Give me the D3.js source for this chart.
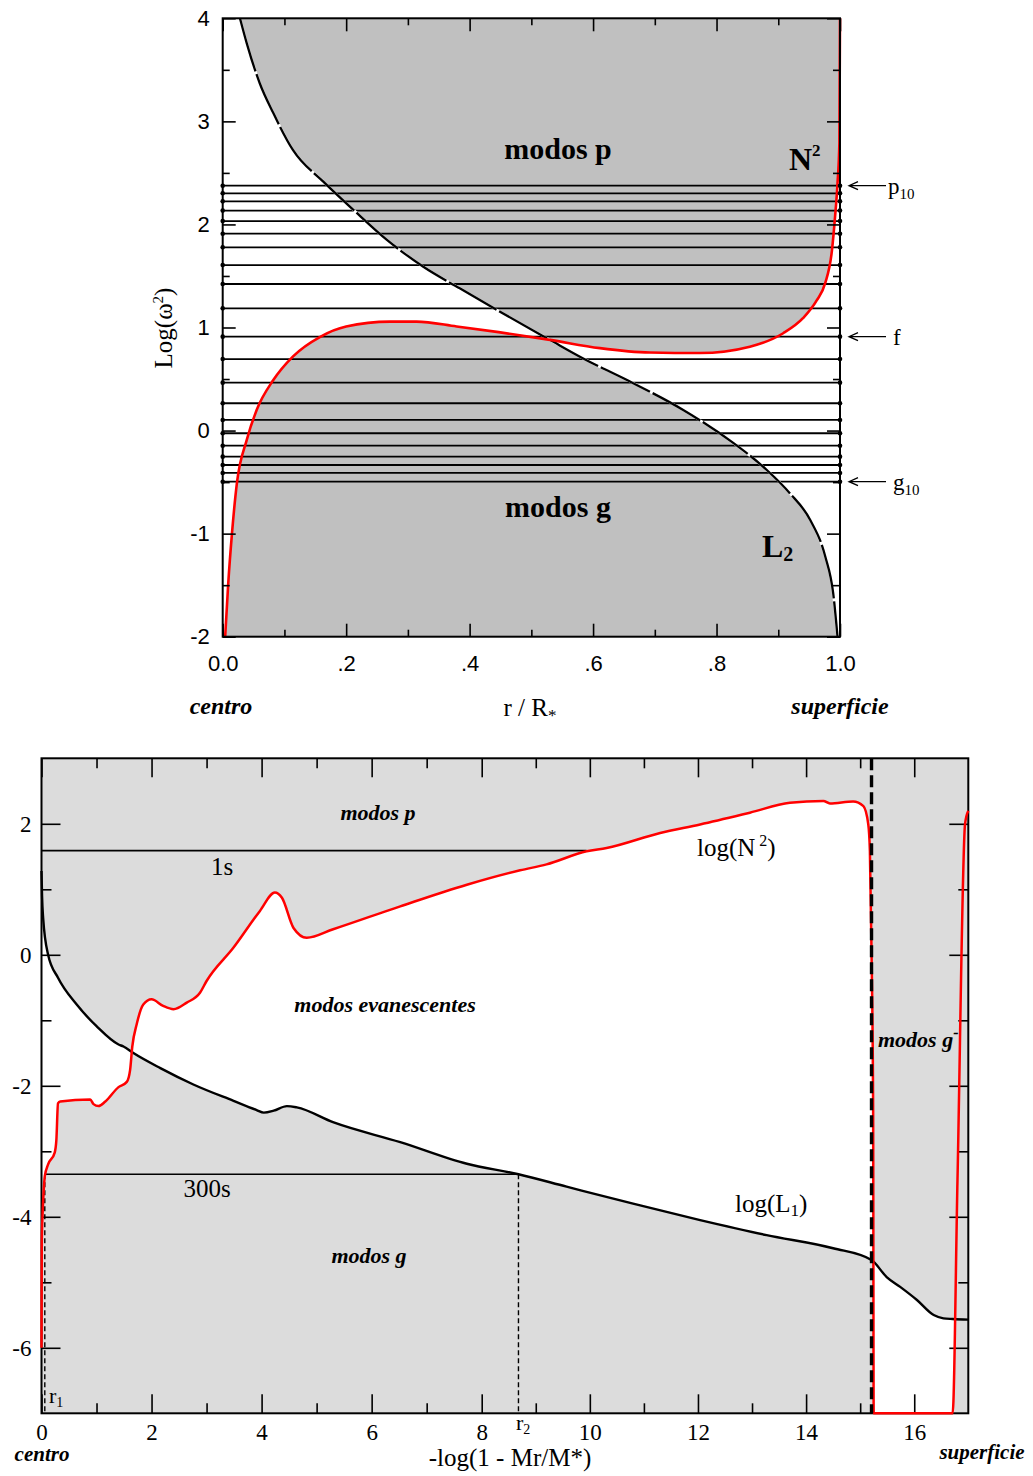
<!DOCTYPE html>
<html>
<head>
<meta charset="utf-8">
<script src="https://cdn.jsdelivr.net/npm/d3@7"></script>
<style>
  body { margin: 0; background: #fff; }
  svg { display: block; }
</style>
</head>
<body>
<svg id="fig" width="1033" height="1476"></svg>
<script>
// ---------------- Panel A: propagation diagram against r / R* ----------------
const topXMajor = [0, 0.2, 0.4, 0.6, 0.8, 1.0];
const topXLabels = ["0.0", ".2", ".4", ".6", ".8", "1.0"];
const topXMinor = [0.1, 0.3, 0.5, 0.7, 0.9];
const topYMajor = [-2, -1, 0, 1, 2, 3, 4];
const topYMinor = [-1.5, -0.5, 0.5, 1.5, 2.5, 3.5];

// Brunt-Vaisala frequency, log(N^2)
const topN2 = [
  [0.004, -2.0], [0.009, -1.48], [0.015, -1.0], [0.023, -0.51], [0.039, -0.09],
  [0.055, 0.20], [0.082, 0.49], [0.114, 0.72], [0.158, 0.91], [0.2, 1.01],
  [0.271, 1.057], [0.314, 1.057], [0.379, 1.01], [0.447, 0.955], [0.530, 0.88],
  [0.611, 0.80], [0.692, 0.757], [0.773, 0.752], [0.854, 0.814], [0.908, 0.944],
  [0.940, 1.09], [0.962, 1.26], [0.976, 1.43], [0.987, 1.75], [0.992, 2.075],
  [0.996, 2.40], [0.999, 2.79], [1.0, 4.0]
];
// Lamb frequency for l = 2, log(L_2^2)
const topL2 = [
  [0.028, 4.0], [0.039, 3.757], [0.060, 3.37], [0.082, 3.08], [0.114, 2.72],
  [0.163, 2.415], [0.212, 2.14], [0.266, 1.85], [0.325, 1.59], [0.384, 1.38],
  [0.447, 1.16], [0.530, 0.88], [0.584, 0.70], [0.665, 0.46], [0.746, 0.20],
  [0.827, -0.12], [0.881, -0.38], [0.919, -0.61], [0.952, -0.87], [0.976, -1.22],
  [0.989, -1.58], [0.996, -2.0]
];
// Eigenfrequencies, log(omega^2)
const pModes = [2.376, 2.302, 2.224, 2.134, 2.033, 1.910, 1.778, 1.606, 1.422, 1.186];
const fMode = [0.911];
const gModes = [0.694, 0.465, 0.265, 0.103, -0.026, -0.147, -0.253, -0.334, -0.411, -0.496];
const modeMarkers = [
  { name: "p", sub: "10", value: 2.376 },
  { name: "f", sub: "", value: 0.911 },
  { name: "g", sub: "10", value: -0.496 }
];

// ---------------- Panel B: propagation diagram against -log(1 - Mr/M*) ----------------
const botXMajor = [0, 2, 4, 6, 8, 10, 12, 14, 16];
const botXMinor = [1, 3, 5, 7, 9, 11, 13, 15];
const botYMajor = [-6, -4, -2, 0, 2];
const botYMinor = [-5, -3, -1, 1];

const botN2 = [
  [0, -6.0], [0.005, -4.4], [0.02, -3.95], [0.04, -3.6], [0.06, -3.38], [0.12, -3.2],
  [0.24, -3.02], [0.27, -2.83], [0.30, -2.27], [0.34, -2.24], [0.885, -2.21],
  [0.945, -2.28], [1.036, -2.31], [1.16, -2.24], [1.40, -2.02], [1.55, -1.94],
  [1.61, -1.76], [1.65, -1.40], [1.73, -1.06], [1.85, -0.76], [2.0, -0.68],
  [2.21, -0.78], [2.40, -0.83], [2.64, -0.73], [2.88, -0.58], [3.0, -0.40],
  [3.49, 0.11], [3.97, 0.67], [4.24, 0.95], [4.37, 0.87], [4.58, 0.41],
  [4.82, 0.26], [5.30, 0.39], [6.52, 0.74], [7.73, 1.07], [8.71, 1.29],
  [9.20, 1.38], [9.94, 1.58], [10.31, 1.63], [11.30, 1.86], [12.04, 1.99],
  [12.96, 2.17], [13.70, 2.32], [14.32, 2.35], [14.44, 2.31], [14.87, 2.34],
  [15.06, 2.27], [15.15, 1.99], [15.18, 1.58], [15.21, 0.06], [15.24, -2.37],
  [15.25, -7.0], [16.71, -7.0], [16.80, -3.44], [16.94, 2.0], [17.0, 2.2]
];
const botL1 = [
  [0, 1.28], [0.01, 0.9], [0.03, 0.56], [0.12, 0.0], [0.30, -0.35], [0.64, -0.76],
  [1.0, -1.09], [1.40, -1.37], [1.49, -1.40], [1.67, -1.50], [2.16, -1.73],
  [2.76, -1.98], [3.49, -2.23], [3.91, -2.37], [4.04, -2.41], [4.22, -2.38],
  [4.46, -2.31], [4.64, -2.33], [5.31, -2.56], [6.52, -2.86], [7.73, -3.19],
  [8.68, -3.35], [9.57, -3.54], [10.80, -3.80], [12.04, -4.05], [13.27, -4.28],
  [14.50, -4.48], [15.21, -4.66], [15.49, -4.92], [15.74, -5.07], [16.05, -5.27],
  [16.36, -5.50], [16.54, -5.55], [16.71, -5.56], [17.0, -5.57]
];
const periodLines = [
  { label: "1s", value: 1.59, from: 0, to: 9.94, tx: 222, ty: 875 },
  { label: "300s", value: -3.35, from: 0.06, to: 8.68, tx: 207, ty: 1197 }
];
const turningPoints = [
  { name: "r", sub: "1", x: 0.06, value: -3.35 },
  { name: "r", sub: "2", x: 8.68, value: -3.35 }
];
const envelopeEdge = 15.21;

// ---------------------------------------------------------------------------
const svg = d3.select("#fig");
const defs = svg.append("defs");
const SERIF = "'Liberation Serif', 'Times New Roman', serif";
const SANS = "'Liberation Sans', Arial, sans-serif";
const curve = d3.curveMonotoneX;
const plainInt = d => String(d);   // hyphen-minus, as on the printed axes

function addText(g, x, y, parts, o = {}) {
  const t = g.append("text").attr("x", x).attr("y", y)
    .attr("font-family", o.family || SERIF)
    .attr("font-size", o.size || 24)
    .attr("font-weight", o.weight || "normal")
    .attr("font-style", o.style || "normal")
    .attr("text-anchor", o.anchor || "start")
    .attr("fill", "#000");
  if (o.rotate) t.attr("transform", `rotate(${o.rotate},${x},${y})`);
  parts.forEach(p => {
    if (typeof p === "string") { t.append("tspan").text(p); return; }
    t.append("tspan").attr("dy", p.dy).attr("font-size", p.size).text(p.t);
  });
  return t;
}

function frameWithTicks(g, xs, ys, o) {
  const xr = xs.range(), yr = ys.range();
  const L = xr[0], R = xr[xr.length - 1], Bt = yr[0], Tp = yr[yr.length - 1];
  const style = sel => {
    sel.select(".domain").remove();
    sel.selectAll(".tick line").attr("stroke", "#000").attr("stroke-width", o.tickW);
    sel.selectAll(".tick text").attr("font-family", o.font).attr("font-size", o.fontSize).attr("fill", "#000");
  };
  g.append("g").attr("transform", `translate(0,${Bt})`)
    .call(d3.axisBottom(xs).tickValues(o.xMajor).tickSize(-o.maj).tickPadding(o.xPad).tickFormat((d, i) => o.xFmt(d, i))).call(style);
  g.append("g").attr("transform", `translate(0,${Bt})`)
    .call(d3.axisBottom(xs).tickValues(o.xMinor).tickSize(-o.min).tickFormat("")).call(style);
  g.append("g").attr("transform", `translate(0,${Tp})`)
    .call(d3.axisTop(xs).tickValues(o.xMajor).tickSize(-o.maj).tickFormat("")).call(style);
  g.append("g").attr("transform", `translate(0,${Tp})`)
    .call(d3.axisTop(xs).tickValues(o.xMinor).tickSize(-o.min).tickFormat("")).call(style);
  g.append("g").attr("transform", `translate(${L},0)`)
    .call(d3.axisLeft(ys).tickValues(o.yMajor).tickSize(-o.maj).tickPadding(o.yPad).tickFormat(o.yFmt)).call(style);
  g.append("g").attr("transform", `translate(${L},0)`)
    .call(d3.axisLeft(ys).tickValues(o.yMinor).tickSize(-o.min).tickFormat("")).call(style);
  g.append("g").attr("transform", `translate(${R},0)`)
    .call(d3.axisRight(ys).tickValues(o.yMajor).tickSize(-o.maj).tickFormat("")).call(style);
  g.append("g").attr("transform", `translate(${R},0)`)
    .call(d3.axisRight(ys).tickValues(o.yMinor).tickSize(-o.min).tickFormat("")).call(style);
  g.append("rect").attr("x", L).attr("y", Tp).attr("width", R - L).attr("height", Bt - Tp)
    .attr("fill", "none").attr("stroke", "#000").attr("stroke-width", o.frameW);
}

// ============================ Panel A ============================
(function () {
  const xT = d3.scaleLinear().domain([0, 1]).range([222.7, 840]);
  const yT = d3.scaleLinear().domain([-2, 4]).range([636.7, 18.3]);
  const g = svg.append("g");
  const areaTo = (data, edge) => d3.area().x(d => xT(d[0])).y0(d => yT(d[1])).y1(yT(edge)).curve(curve)(data);
  const line = d3.line().x(d => xT(d[0])).y(d => yT(d[1])).curve(curve);
  const GRAY = "#c0c0c0";

  // acoustic (p) region: above both critical frequencies
  const cA = defs.append("clipPath").attr("id", "aboveL2");
  cA.append("path").attr("d", areaTo(topL2, 4));
  cA.append("rect").attr("x", xT(0.996)).attr("y", yT(4)).attr("width", xT(1) - xT(0.996) + 2).attr("height", yT(-2) - yT(4));
  // gravity (g) region: below both critical frequencies
  const cB = defs.append("clipPath").attr("id", "belowL2");
  cB.append("path").attr("d", areaTo(topL2, -2));
  cB.append("rect").attr("x", xT(0) - 2).attr("y", yT(4)).attr("width", xT(0.028) - xT(0) + 2).attr("height", yT(-2) - yT(4));

  g.append("path").attr("d", areaTo(topN2, 4)).attr("fill", GRAY).attr("clip-path", "url(#aboveL2)");
  g.append("path").attr("d", areaTo(topN2, -2)).attr("fill", GRAY).attr("clip-path", "url(#belowL2)");

  // eigenfrequency levels
  const levels = pModes.concat(fMode, gModes);
  g.selectAll("line.mode").data(levels).join("line")
    .attr("x1", xT(0)).attr("x2", xT(1)).attr("y1", d => yT(d)).attr("y2", d => yT(d))
    .attr("stroke", "#000").attr("stroke-width", 1.8);

  // L2 dashed curve
  g.append("path").attr("d", line(topL2)).attr("fill", "none").attr("stroke", "#fff").attr("stroke-width", 2.4);
  g.append("path").attr("d", line(topL2)).attr("fill", "none").attr("stroke", "#000").attr("stroke-width", 2.3)
    .attr("stroke-dasharray", "55,3");
  // N2 curve
  g.append("path").attr("d", line(topN2)).attr("fill", "none").attr("stroke", "#ff0000").attr("stroke-width", 2.6);

  frameWithTicks(g, xT, yT, {
    xMajor: topXMajor, xMinor: topXMinor, yMajor: topYMajor, yMinor: topYMinor,
    maj: 13, min: 7, tickW: 1.6, frameW: 2, xPad: 19, yPad: 13,
    xFmt: (d, i) => topXLabels[i], yFmt: plainInt, font: SANS, fontSize: 22
  });

  // end dots of each level
  levels.forEach(v => {
    [0, 1].forEach(xx => g.append("circle").attr("cx", xT(xx)).attr("cy", yT(v)).attr("r", 2.3).attr("fill", "#000"));
  });

  // mode markers on the right
  modeMarkers.forEach(m => {
    const y = yT(m.value);
    g.append("path").attr("d", `M886,${y}H849M858,${y - 4}L849,${y}L858,${y + 4}`)
      .attr("fill", "none").attr("stroke", "#000").attr("stroke-width", 1.3);
    const parts = [m.name];
    if (m.sub) parts.push({ t: m.sub, dy: 5, size: 15 });
    addText(g, m.name === "p" ? 888 : 893, y + 8, parts, { size: 23 });
  });

  addText(g, 558, 159, ["modos p"], { size: 30, weight: "bold", anchor: "middle" });
  addText(g, 558, 517, ["modos g"], { size: 30, weight: "bold", anchor: "middle" });
  addText(g, 789, 170, ["N", { t: "2", dy: -14, size: 17 }], { size: 32, weight: "bold" });
  addText(g, 762, 557, ["L", { t: "2", dy: 4, size: 20 }], { size: 32, weight: "bold" });

  addText(g, 172, 328, ["Log(\u03c9", { t: "2", dy: -9, size: 15 }, { t: ")", dy: 9, size: 25 }], { size: 25, anchor: "middle", rotate: -90 });
  addText(g, 530, 716, ["r / R", { t: "*", dy: 5, size: 17 }], { size: 25, anchor: "middle" });
  addText(g, 221, 714, ["centro"], { size: 24, weight: "bold", style: "italic", anchor: "middle" });
  addText(g, 840, 714, ["superficie"], { size: 24, weight: "bold", style: "italic", anchor: "middle" });
})();

// ============================ Panel B ============================
(function () {
  const xB = d3.scaleLinear().domain([0, 8, 17]).range([41.5, 481.7, 968.3]);
  const yB = d3.scaleLinear().domain([-7, 3]).range([1413.3, 758.3]);
  const g = svg.append("g");
  const areaTo = (data, edge) => d3.area().x(d => xB(d[0])).y0(d => yB(d[1])).y1(yB(edge)).curve(curve)(data);
  const line = d3.line().x(d => xB(d[0])).y(d => yB(d[1])).curve(curve);

  g.append("rect").attr("x", xB(0)).attr("y", yB(3)).attr("width", xB(17) - xB(0)).attr("height", yB(-7) - yB(3))
    .attr("fill", "#dcdcdc");

  // evanescent zone: between log(N^2) and log(L1)
  defs.append("clipPath").attr("id", "belowL1").append("path").attr("d", areaTo(botL1, -7));
  defs.append("clipPath").attr("id", "aboveL1").append("path").attr("d", areaTo(botL1, 3));
  g.append("path").attr("d", areaTo(botN2, 3)).attr("fill", "#fff").attr("clip-path", "url(#belowL1)");
  g.append("path").attr("d", areaTo(botN2.filter(d => d[0] <= 15.25), -7)).attr("fill", "#fff").attr("clip-path", "url(#aboveL1)");

  // periods of 1 s and 300 s
  periodLines.forEach(p => {
    g.append("line").attr("x1", xB(p.from)).attr("x2", xB(p.to)).attr("y1", yB(p.value)).attr("y2", yB(p.value))
      .attr("stroke", "#000").attr("stroke-width", 1.6);
    addText(g, p.tx, p.ty, [p.label], { size: 25, anchor: "middle" });
  });
  turningPoints.forEach(r => {
    g.append("line").attr("x1", xB(r.x)).attr("x2", xB(r.x)).attr("y1", yB(r.value)).attr("y2", yB(-7))
      .attr("stroke", "#000").attr("stroke-width", 1.4).attr("stroke-dasharray", "5,3");
  });

  g.append("path").attr("d", line(botL1)).attr("fill", "none").attr("stroke", "#000").attr("stroke-width", 2.4);

  frameWithTicks(g, xB, yB, {
    xMajor: botXMajor, xMinor: botXMinor, yMajor: botYMajor, yMinor: botYMinor,
    maj: 19, min: 10, tickW: 1.6, frameW: 2, xPad: 10, yPad: 10,
    xFmt: d => plainInt(d), yFmt: plainInt, font: SERIF, fontSize: 23
  });

  g.append("path").attr("d", line(botN2)).attr("fill", "none").attr("stroke", "#ff0000").attr("stroke-width", 2.5);
  g.append("line").attr("x1", xB(envelopeEdge)).attr("x2", xB(envelopeEdge)).attr("y1", yB(3)).attr("y2", yB(-7))
    .attr("stroke", "#000").attr("stroke-width", 3.4).attr("stroke-dasharray", "12,5");

  const it = { size: 22, weight: "bold", style: "italic" };
  addText(g, 378, 820, ["modos p"], { ...it, anchor: "middle" });
  addText(g, 385, 1012, ["modos evanescentes"], { ...it, anchor: "middle" });
  addText(g, 369, 1263, ["modos g"], { ...it, anchor: "middle" });
  addText(g, 878, 1047, ["modos g", { t: "-", dy: -9, size: 16 }], it);
  addText(g, 697, 856, ["log(N", { t: " 2", dy: -10, size: 16 }, { t: ")", dy: 10, size: 25 }], { size: 25 });
  addText(g, 735, 1212, ["log(L", { t: "1", dy: 4, size: 17 }, { t: ")", dy: -4, size: 25 }], { size: 25 });
  addText(g, 49, 1403, ["r", { t: "1", dy: 4, size: 14 }], { size: 22 });
  addText(g, 516, 1430, ["r", { t: "2", dy: 4, size: 14 }], { size: 22 });
  addText(g, 510, 1466, ["-log(1 - Mr/M*)"], { size: 25, anchor: "middle" });
  addText(g, 42, 1461, ["centro"], { size: 21, weight: "bold", style: "italic", anchor: "middle" });
  addText(g, 982, 1459, ["superficie"], { size: 21, weight: "bold", style: "italic", anchor: "middle" });
})();
</script>
</body>
</html>
